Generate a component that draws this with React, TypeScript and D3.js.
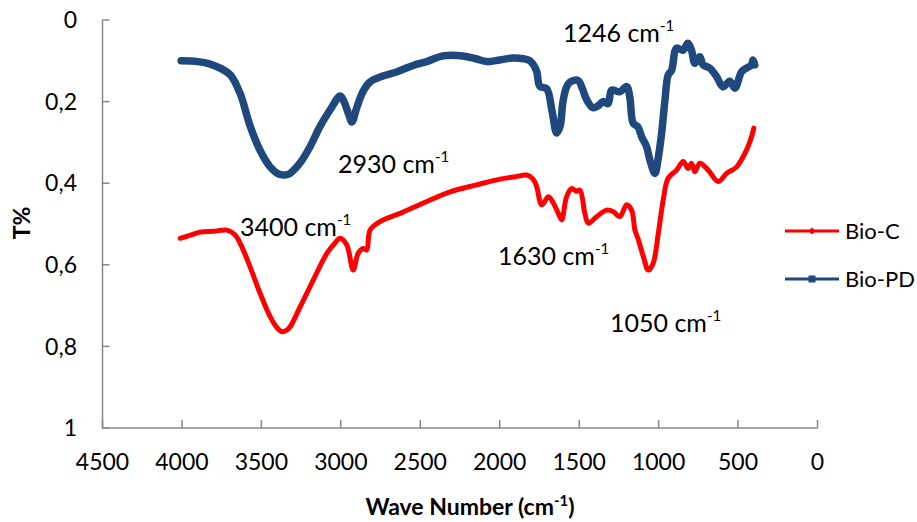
import React from "react";
import * as d3 from "d3";

const bioPDWave = [4005, 3900, 3822, 3760, 3695, 3634, 3571, 3508, 3445, 3390, 3363, 3330, 3307, 3256, 3193, 3130, 3067, 3004, 2980, 2950, 2930, 2900, 2860, 2816, 2740, 2646, 2550, 2459, 2357, 2231, 2150, 2080, 2000, 1917, 1850, 1810, 1780, 1766, 1747, 1705, 1670, 1642, 1620, 1602, 1580, 1558, 1508, 1480, 1452, 1413, 1380, 1350, 1318, 1296, 1244, 1201, 1181, 1160, 1130, 1107, 1076, 1055, 1023, 1005, 981, 960, 940, 918, 887, 846, 816, 793, 772, 741, 720, 678, 636, 595, 552, 520, 478, 447, 415, 406, 395];
const bioPDT = [0.100, 0.102, 0.108, 0.118, 0.135, 0.18, 0.26, 0.32, 0.36, 0.378, 0.38, 0.378, 0.372, 0.35, 0.31, 0.26, 0.22, 0.186, 0.2, 0.232, 0.25, 0.215, 0.175, 0.152, 0.138, 0.127, 0.112, 0.102, 0.088, 0.088, 0.095, 0.102, 0.098, 0.093, 0.095, 0.100, 0.115, 0.128, 0.163, 0.168, 0.225, 0.277, 0.26, 0.2, 0.165, 0.152, 0.148, 0.168, 0.196, 0.215, 0.21, 0.2, 0.205, 0.172, 0.176, 0.163, 0.19, 0.253, 0.262, 0.286, 0.31, 0.343, 0.376, 0.345, 0.277, 0.196, 0.135, 0.123, 0.069, 0.074, 0.057, 0.074, 0.106, 0.09, 0.11, 0.118, 0.138, 0.164, 0.15, 0.167, 0.127, 0.118, 0.11, 0.098, 0.11];

const bioCWave = [4011, 3950, 3886, 3800, 3716, 3665, 3614, 3571, 3508, 3445, 3400, 3372, 3340, 3319, 3256, 3173, 3088, 3040, 3005, 2963, 2922, 2891, 2858, 2837, 2816, 2753, 2627, 2459, 2313, 2145, 1998, 1900, 1830, 1790, 1767, 1736, 1693, 1662, 1630, 1610, 1579, 1547, 1516, 1495, 1464, 1442, 1390, 1327, 1285, 1244, 1201, 1170, 1149, 1127, 1096, 1065, 1034, 1002, 971, 940, 887, 845, 814, 793, 772, 741, 688, 625, 572, 509, 447, 415, 401];
const bioCT = [0.535, 0.528, 0.52, 0.518, 0.515, 0.527, 0.564, 0.605, 0.67, 0.727, 0.755, 0.764, 0.76, 0.752, 0.703, 0.637, 0.572, 0.548, 0.535, 0.551, 0.613, 0.572, 0.56, 0.564, 0.515, 0.494, 0.474, 0.445, 0.421, 0.404, 0.39, 0.384, 0.38, 0.39, 0.409, 0.453, 0.433, 0.449, 0.475, 0.49, 0.433, 0.413, 0.42, 0.417, 0.474, 0.498, 0.482, 0.466, 0.47, 0.482, 0.453, 0.466, 0.515, 0.539, 0.58, 0.613, 0.596, 0.523, 0.441, 0.388, 0.368, 0.347, 0.364, 0.351, 0.372, 0.351, 0.368, 0.396, 0.376, 0.36, 0.319, 0.286, 0.265];

const xTicks = [4500, 4000, 3500, 3000, 2500, 2000, 1500, 1000, 500, 0];
const yTicks = [0, 0.2, 0.4, 0.6, 0.8, 1];
const yTickLabels = ["0", "0,2", "0,4", "0,6", "0,8", "1"];

const annotations = [
  { label: "3400 cm", wave: 3400, t: 0.53 },
  { label: "2930 cm", wave: 2930, t: 0.375 },
  { label: "1246 cm", wave: 1246, t: 0.055 },
  { label: "1630 cm", wave: 1630, t: 0.6 },
  { label: "1050 cm", wave: 1050, t: 0.765 },
];
const annotationX = [240, 338, 563, 498, 610];

const seriesNames = ["Bio-C", "Bio-PD"];
const seriesColors = ["#FF0000", "#1F497D"];

const FONT = "Lato, 'Open Sans', sans-serif";

export default function App() {
  const x = d3.scaleLinear().domain([4500, 0]).range([102.5, 817.5]);
  const y = d3.scaleLinear().domain([0, 1]).range([20, 428]);

  const line = d3
    .line<[number, number]>()
    .x((d) => x(d[0]))
    .y((d) => y(d[1]))
    .curve(d3.curveCatmullRom.alpha(0.5));

  const pd = bioPDWave.map((w, i) => [w, bioPDT[i]] as [number, number]);
  const c = bioCWave.map((w, i) => [w, bioCT[i]] as [number, number]);

  const axisColor = "#888888";

  return (
    <svg
      width={917}
      height={522}
      style={{ position: "absolute", left: 0, top: 0, background: "#fff" }}
      fontFamily={FONT}
    >
      {/* axes */}
      <line x1={x(4500)} x2={x(4500)} y1={y(0)} y2={y(1)} stroke={axisColor} strokeWidth={1.5} />
      <line x1={x(4500)} x2={x(0)} y1={y(1)} y2={y(1)} stroke={axisColor} strokeWidth={1.5} />
      {yTicks.map((t, i) => (
        <g key={"yt" + i}>
          <line x1={x(4500)} x2={x(4500) + 7} y1={y(t)} y2={y(t)} stroke={axisColor} strokeWidth={1.5} />
          <text x={77} y={y(t)} dy="0.36em" textAnchor="end" fontSize={23} fill="#000">
            {yTickLabels[i]}
          </text>
        </g>
      ))}
      {xTicks.map((v, i) => (
        <g key={"xt" + i}>
          <line x1={x(v)} x2={x(v)} y1={y(1)} y2={y(1) - 8} stroke={axisColor} strokeWidth={1.5} />
          <text x={x(v)} y={470} textAnchor="middle" fontSize={23} fill="#000">
            {v}
          </text>
        </g>
      ))}

      {/* series */}
      <path d={line(c) || ""} fill="none" stroke={seriesColors[0]} strokeWidth={5} strokeLinejoin="round" strokeLinecap="round" />
      <path d={line(pd) || ""} fill="none" stroke={seriesColors[1]} strokeWidth={7.5} strokeLinejoin="round" strokeLinecap="round" />

      {/* annotations */}
      {annotations.map((a, i) => (
        <text key={"an" + i} x={annotationX[i]} y={y(a.t)} fontSize={25} fill="#000">
          {a.label}
          <tspan dy={-11} fontSize={15}>-1</tspan>
        </text>
      ))}

      {/* axis titles */}
      <text x={470} y={515} textAnchor="middle" fontSize={23} fontWeight="bold" fill="#000">
        Wave Number (cm<tspan dy={-9} fontSize={15}>-1</tspan>
        <tspan dy={9}>)</tspan>
      </text>
      <text transform="translate(30,223) rotate(-90)" textAnchor="middle" fontSize={23} fontWeight="bold" fill="#000">
        T%
      </text>

      {/* legend */}
      {seriesNames.map((n, i) => {
        const ly = 231 + i * 48;
        return (
          <g key={"lg" + i}>
            <line x1={785} x2={839} y1={ly} y2={ly} stroke={seriesColors[i]} strokeWidth={3} />
            {i === 0 ? (
              <path d={`M812,${ly - 3.5}L815.5,${ly}L812,${ly + 3.5}L808.5,${ly}Z`} fill={seriesColors[i]} />
            ) : (
              <rect x={808.5} y={ly - 3.5} width={7} height={7} fill={seriesColors[i]} />
            )}
            <text x={845} y={ly} dy="0.36em" fontSize={22} fill="#000">
              {n}
            </text>
          </g>
        );
      })}
    </svg>
  );
}
